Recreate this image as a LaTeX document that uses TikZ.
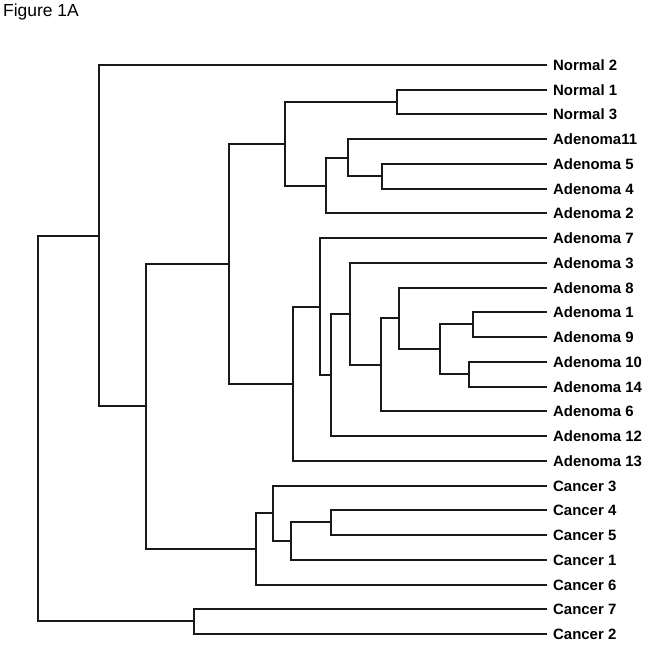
\documentclass[tikz,border=0pt]{standalone}
\usepackage{fontspec}
\setmainfont{Liberation Sans}
\usepackage{tikz}
\usepackage{xcolor}

\begin{document}
\begin{tikzpicture}[x=1bp,y=-1bp]
\tikzset{branch/.style={line width=2bp,draw=black!90}}
\tikzset{leaf/.style={anchor=west,inner sep=0pt,xshift=6bp,text height=10.7pt,text depth=0pt,font=\fontsize{15}{18}\selectfont\bfseries}}
\useasboundingbox (0,0) rectangle (650,645);

\node[anchor=base west,inner sep=0pt,font=\fontsize{17.5}{20}\selectfont] (title) at (3,16.7) {Figure 1A};

% leaves
\foreach \nm/\txt [count=\i from 0] in {N2/Normal 2,N1/Normal 1,N3/Normal 3,A11/Adenoma11,A5/Adenoma 5,A4/Adenoma 4,A2/Adenoma 2,A7/Adenoma 7,A3/Adenoma 3,A8/Adenoma 8,A1/Adenoma 1,A9/Adenoma 9,A10/Adenoma 10,A14/Adenoma 14,A6/Adenoma 6,A12/Adenoma 12,A13/Adenoma 13,C3/Cancer 3,C4/Cancer 4,C5/Cancer 5,C1/Cancer 1,C6/Cancer 6,C7/Cancer 7,C2/Cancer 2}
{
  \pgfmathtruncatemacro\yy{round(65+24.74*\i)}
  \coordinate (\nm) at (547,\yy);
  \node[leaf] (\nm-lab) at (\nm) {\txt};
}

% merges
\coordinate (nN13) at (397,102);
\coordinate (nH) at (382,176);
\coordinate (nG) at (348,158);
\coordinate (nF) at (326,186);
\coordinate (nD) at (285,144);
\coordinate (nO) at (473,324);
\coordinate (nP) at (469,374);
\coordinate (nN) at (440,349);
\coordinate (nM) at (399,318);
\coordinate (nL) at (381,365);
\coordinate (nK) at (350,314);
\coordinate (nJ) at (331,375);
\coordinate (nI) at (320,307);
\coordinate (nE) at (293,384);
\coordinate (nC) at (229,264);
\coordinate (nT) at (331,522);
\coordinate (nS) at (291,541);
\coordinate (nR) at (273,513);
\coordinate (nQ) at (256,549);
\coordinate (nB) at (146,406);
\coordinate (nA) at (99,236);
\coordinate (nU) at (194,621);
\coordinate (root) at (38,428);

\draw[branch] (nN13) |- (N1) (nN13) |- (N3);
\draw[branch] (nH) |- (A5) (nH) |- (A4);
\draw[branch] (nG) |- (A11) (nG) |- (nH);
\draw[branch] (nF) |- (nG) (nF) |- (A2);
\draw[branch] (nD) |- (nN13) (nD) |- (nF);
\draw[branch] (nO) |- (A1) (nO) |- (A9);
\draw[branch] (nP) |- (A10) (nP) |- (A14);
\draw[branch] (nN) |- (nO) (nN) |- (nP);
\draw[branch] (nM) |- (A8) (nM) |- (nN);
\draw[branch] (nL) |- (nM) (nL) |- (A6);
\draw[branch] (nK) |- (A3) (nK) |- (nL);
\draw[branch] (nJ) |- (nK) (nJ) |- (A12);
\draw[branch] (nI) |- (A7) (nI) |- (nJ);
\draw[branch] (nE) |- (nI) (nE) |- (A13);
\draw[branch] (nC) |- (nD) (nC) |- (nE);
\draw[branch] (nT) |- (C4) (nT) |- (C5);
\draw[branch] (nS) |- (nT) (nS) |- (C1);
\draw[branch] (nR) |- (C3) (nR) |- (nS);
\draw[branch] (nQ) |- (nR) (nQ) |- (C6);
\draw[branch] (nB) |- (nC) (nB) |- (nQ);
\draw[branch] (nA) |- (N2) (nA) |- (nB);
\draw[branch] (nU) |- (C7) (nU) |- (C2);
\draw[branch] (root) |- (nA) (root) |- (nU);

\end{tikzpicture}
\end{document}
